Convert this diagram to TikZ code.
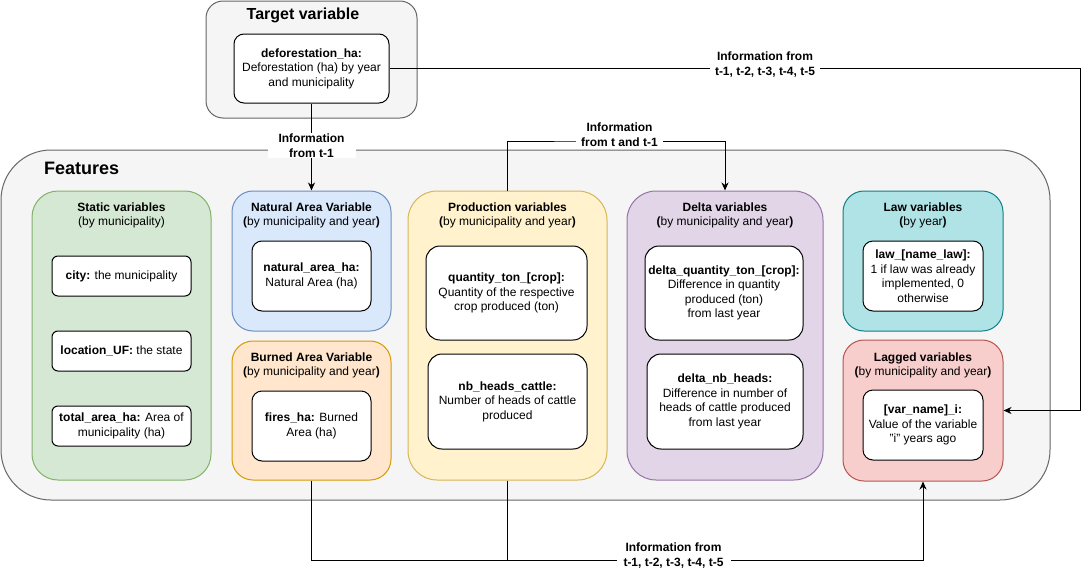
\documentclass[tikz,border=0pt]{standalone}
\usepackage{fontspec}
\setmainfont{Liberation Sans}
\usetikzlibrary{arrows.meta}
\definecolor{grayF}{HTML}{F5F5F5}\definecolor{grayS}{HTML}{666666}
\definecolor{grnF}{HTML}{D5E8D4}\definecolor{grnS}{HTML}{82B366}
\definecolor{bluF}{HTML}{DAE8FC}\definecolor{bluS}{HTML}{6C8EBF}
\definecolor{orgF}{HTML}{FFE6CC}\definecolor{orgS}{HTML}{D79B00}
\definecolor{yelF}{HTML}{FFF2CC}\definecolor{yelS}{HTML}{D6B656}
\definecolor{purF}{HTML}{E1D5E7}\definecolor{purS}{HTML}{9673A6}
\definecolor{tealF}{HTML}{B0E3E6}\definecolor{tealS}{HTML}{0E8088}
\definecolor{redF}{HTML}{F8CECC}\definecolor{redS}{HTML}{B85450}
\begin{document}
\begin{tikzpicture}[x=1pt,y=-1pt,
  every node/.style={font=\fontsize{12}{14.5}\selectfont, align=center, inner sep=0pt},
  bx/.style={draw, line width=1pt, rectangle},
  inbox/.style={bx, draw=black, fill=white},
  ttl/.style={},
  conn/.style={line width=1pt, draw=black},
  arr/.style={conn, -{Stealth[length=8pt,width=7pt,inset=2.5pt]}},
  lbl/.style={fill=white, inner xsep=5pt, inner ysep=1pt, font=\fontsize{12}{14.5}\selectfont\bfseries}
]
\useasboundingbox (0,0) rectangle (1090,581);

% Target variable group
\node[bx, draw=grayS, fill=grayF, minimum width=211pt, minimum height=117pt, rounded corners=17pt] (target) at (311.5,59.5) {};
\node[font=\fontsize{16}{19}\selectfont\bfseries] (targett) at (303,15) {Target variable};
\node[inbox, minimum width=155pt, minimum height=69pt, rounded corners=10pt] (defor) at (311.5,68.5) {\textbf{deforestation\_ha:}\\Deforestation (ha) by year\\and municipality};

% Features group
\node[bx, draw=grayS, fill=grayF, minimum width=1049pt, minimum height=350pt, rounded corners=50pt] (features) at (525.5,325) {};
\node[font=\fontsize{18}{21}\selectfont\bfseries, anchor=west] (featt) at (44,168) {Features};

% Static
\node[bx, draw=grnS, fill=grnF, minimum width=179pt, minimum height=289pt, rounded corners=26pt] (static) at (121.5,335.5) {};
\node (statict) at (121.5,215.5) {\textbf{Static variables}\\(by municipality)};
\node[inbox, minimum width=139pt, minimum height=40pt, rounded corners=6pt] (city) at (121.5,276) {\textbf{city:} the municipality};
\node[inbox, minimum width=139pt, minimum height=40pt, rounded corners=6pt] (loc) at (121.5,351) {\textbf{location\_UF:} the state};
\node[inbox, minimum width=139pt, minimum height=40pt, rounded corners=6pt] (tot) at (121.5,426) {\textbf{total\_area\_ha:} Area of\\municipality (ha)};

% Natural area
\node[bx, draw=bluS, fill=bluF, minimum width=159pt, minimum height=140pt, rounded corners=21pt] (natural) at (311.5,261) {};
\node (naturalt) at (311.5,215.5) {\textbf{Natural Area Variable}\\\textbf{(}by municipality and year\textbf{)}};
\node[inbox, minimum width=119pt, minimum height=70pt, rounded corners=10pt] (nat) at (311.5,276) {\textbf{natural\_area\_ha:}\\Natural Area (ha)};

% Burned area
\node[bx, draw=orgS, fill=orgF, minimum width=159pt, minimum height=139pt, rounded corners=21pt] (burned) at (311.5,410.5) {};
\node (burnedt) at (311.5,365.5) {\textbf{Burned Area Variable}\\\textbf{(}by municipality and year\textbf{)}};
\node[inbox, minimum width=119pt, minimum height=70pt, rounded corners=10pt] (fires) at (311.5,426) {\textbf{fires\_ha:} Burned\\Area (ha)};

% Production
\node[bx, draw=yelS, fill=yelF, minimum width=199pt, minimum height=289pt, rounded corners=29pt] (prod) at (507.5,335.5) {};
\node (prodt) at (507.5,215.5) {\textbf{Production variables}\\\textbf{(}by municipality and year\textbf{)}};
\node[inbox, minimum width=161pt, minimum height=94pt, rounded corners=14pt] (qty) at (506.5,293) {\textbf{quantity\_ton\_[crop]:}\\Quantity of the respective\\crop produced (ton)};
\node[inbox, minimum width=159pt, minimum height=95pt, rounded corners=14pt] (nbh) at (507.5,401.5) {\textbf{nb\_heads\_cattle:}\\Number of heads of cattle\\produced};

% Delta
\node[bx, draw=purS, fill=purF, minimum width=196pt, minimum height=289pt, rounded corners=29pt] (delta) at (725,335.5) {};
\node (deltat) at (725,215.5) {\textbf{Delta variables}\\\textbf{(}by municipality and year\textbf{)}};
\node[inbox, minimum width=158pt, minimum height=94pt, rounded corners=14pt] (dqty) at (724,293) {\textbf{delta\_quantity\_ton\_[crop]:}\\Difference in quantity\\produced (ton)\\from last year};
\node[inbox, minimum width=156pt, minimum height=95pt, rounded corners=14pt] (dnbh) at (725,401.5) {\textbf{delta\_nb\_heads:}\\Difference in number of\\heads of cattle produced\\from last year};

% Law
\node[bx, draw=tealS, fill=tealF, minimum width=160pt, minimum height=140pt, rounded corners=21pt] (law) at (923,261) {};
\node (lawt) at (923,215.5) {\textbf{Law variables}\\\textbf{(}by year\textbf{)}};
\node[inbox, minimum width=120pt, minimum height=70pt, rounded corners=10pt] (lawi) at (923,276) {\textbf{law\_[name\_law]:}\\1 if law was already\\implemented, 0\\otherwise};

% Lagged
\node[bx, draw=redS, fill=redF, minimum width=160pt, minimum height=141pt, rounded corners=21pt] (lagged) at (923,410.5) {};
\node (laggedt) at (923,365.5) {\textbf{Lagged variables}\\\textbf{(}by municipality and year\textbf{)}};
\node[inbox, minimum width=120pt, minimum height=70pt, rounded corners=10pt] (lagi) at (923,425) {\textbf{[var\_name]\_i:}\\Value of the variable\\"i" years ago};

% Connectors
\coordinate (ctop) at (600,141);
\coordinate (rt) at (1080,410.5);
\coordinate (bl) at (311.5,560);
\draw[arr] (defor.south) -- (natural.north);
\draw[arr] (prod.north) |- (ctop) -| (delta.north);
\draw[arr] (defor.east) -| (rt) -- (lagged.east);
\draw[arr] (burned.south) -- (bl) -| (lagged.south);
\draw[conn] (prod.south) -- (prod.south |- bl);

% Labels
\node[lbl, inner xsep=11pt] (l1) at (311.5,145.5) {Information\\from t-1};
\node[lbl] (l2) at (619.5,134.5) {Information\\from t and t-1};
\node[lbl] (l3) at (765,64.5) {Information from\\t-1, t-2, t-3, t-4, t-5};
\node[lbl, inner xsep=7pt] (l4) at (673.5,555.5) {Information from\\t-1, t-2, t-3, t-4, t-5};
\end{tikzpicture}
\end{document}
